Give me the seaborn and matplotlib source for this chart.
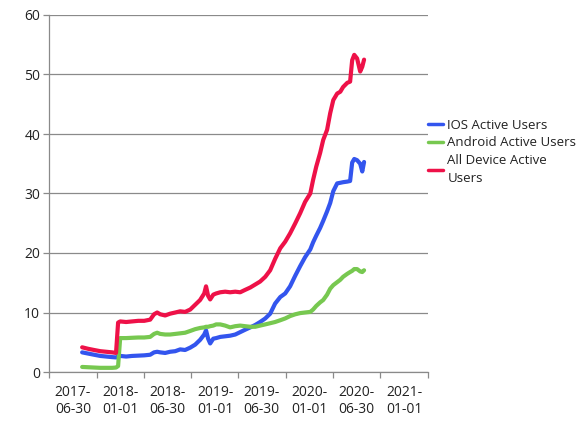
import pandas as pd
import matplotlib.pyplot as plt
import matplotlib.dates as mdates
import seaborn as sns

# values (millions of users, roughly)
dates = ['2017-08-05', '2017-08-28', '2017-09-20', '2017-10-14', '2017-11-06', '2017-11-29',
         '2017-12-14', '2017-12-22', '2017-12-30', '2018-01-22', '2018-02-14', '2018-03-10',
         '2018-04-02', '2018-04-25', '2018-05-10', '2018-05-22', '2018-06-03', '2018-06-22',
         '2018-07-11', '2018-07-31', '2018-08-19', '2018-09-07', '2018-09-27', '2018-10-16',
         '2018-11-04', '2018-11-20', '2018-11-27', '2018-12-05', '2018-12-13', '2018-12-25',
         '2019-01-05', '2019-01-21', '2019-02-09', '2019-02-28', '2019-03-20', '2019-04-08',
         '2019-04-27', '2019-05-17', '2019-06-05', '2019-06-24', '2019-07-14', '2019-08-02',
         '2019-08-21', '2019-09-10', '2019-09-29', '2019-10-18', '2019-11-07', '2019-11-26',
         '2019-12-15', '2020-01-04', '2020-01-15', '2020-01-27', '2020-02-11', '2020-02-23',
         '2020-03-09', '2020-03-21', '2020-04-02', '2020-04-17', '2020-04-29', '2020-05-10',
         '2020-05-26', '2020-06-06', '2020-06-14', '2020-06-22', '2020-07-03', '2020-07-15',
         '2020-07-23', '2020-07-30']

ios = [3.3, 3.1, 2.9, 2.7, 2.6, 2.5,
       2.45, 2.6, 2.7, 2.6, 2.7, 2.75,
       2.8, 2.9, 3.3, 3.4, 3.3, 3.2,
       3.4, 3.5, 3.8, 3.7, 4.1, 4.6,
       5.4, 6.3, 7.0, 5.6, 4.8, 5.6,
       5.7, 5.9, 6.0, 6.1, 6.3, 6.7,
       7.1, 7.5, 7.9, 8.4, 9.0, 9.8,
       11.5, 12.6, 13.2, 14.4, 16.2, 17.8,
       19.3, 20.6, 21.8, 22.9, 24.2, 25.4,
       27.0, 28.4, 30.4, 31.7, 31.8, 31.9,
       32.0, 32.1, 35.2, 35.8, 35.6, 35.0,
       33.7, 35.3]

android = [0.85, 0.8, 0.75, 0.7, 0.7, 0.7,
           0.75, 1.0, 5.7, 5.7, 5.75, 5.8,
           5.8, 5.9, 6.4, 6.6, 6.4, 6.3,
           6.3, 6.4, 6.5, 6.6, 6.9, 7.2,
           7.4, 7.5, 7.6, 7.6, 7.7, 7.8,
           8.0, 8.0, 7.8, 7.5, 7.7, 7.8,
           7.7, 7.6, 7.6, 7.8, 8.0, 8.2,
           8.4, 8.7, 9.0, 9.4, 9.7, 9.9,
           10.0, 10.1, 10.5, 11.1, 11.7, 12.1,
           13.0, 14.0, 14.6, 15.1, 15.5, 16.0,
           16.5, 16.8, 17.0, 17.3, 17.3, 16.9,
           16.8, 17.1]

all_devices = [4.15, 3.9, 3.7, 3.5, 3.4, 3.3,
               3.2, 8.3, 8.5, 8.4, 8.5, 8.6,
               8.6, 8.8, 9.7, 10.0, 9.7, 9.5,
               9.8, 10.0, 10.2, 10.1, 10.5, 11.3,
               12.1, 13.2, 14.4, 12.8, 12.2, 13.0,
               13.2, 13.4, 13.5, 13.4, 13.5, 13.4,
               13.8, 14.2, 14.7, 15.2, 16.0, 17.1,
               19.0, 20.8, 21.9, 23.3, 25.0, 26.7,
               28.6, 30.0, 32.3, 34.5, 36.8, 39.0,
               40.7, 43.5, 45.7, 46.8, 47.1, 47.9,
               48.6, 48.8, 52.4, 53.3, 52.7, 50.5,
               51.3, 52.5]

series_names = ['IOS Active Users', 'Android Active Users', 'All Device Active Users']
colors = ['#3355ee', '#77c850', '#ee1148']
tick_dates = ['2017-06-30', '2018-01-01', '2018-06-30', '2019-01-01',
              '2019-06-30', '2020-01-01', '2020-06-30', '2021-01-01']

df = pd.DataFrame({'date': pd.to_datetime(dates),
                   series_names[0]: ios,
                   series_names[1]: android,
                   series_names[2]: all_devices})
long_df = df.melt(id_vars='date', var_name='series', value_name='users')

sns.set_style('white')
plt.rcParams['font.family'] = ['Open Sans', 'DejaVu Sans']

fig = plt.figure(figsize=(5.81, 4.36), dpi=100)
ax = fig.add_axes([49.3 / 581, 1 - 372 / 436, (427.7 - 49.3) / 581, (372 - 15) / 436])

sns.lineplot(data=long_df, x='date', y='users', hue='series', hue_order=series_names,
             palette=dict(zip(series_names, colors)), linewidth=3, ax=ax)

ax.set_ylim(0, 60)
ax.set_yticks(range(0, 61, 10))
ax.yaxis.grid(True, color='#8a8a8a', linewidth=0.9)
ax.set_axisbelow(True)

# labels sit between tick marks, like the original
label_pos = pd.to_datetime(tick_dates)
bounds = [label_pos[0] - pd.Timedelta(days=91)]
for a, b in zip(label_pos[:-1], label_pos[1:]):
    bounds.append(a + (b - a) / 2)
bounds.append(label_pos[-1] + pd.Timedelta(days=91))
ax.set_xlim(mdates.date2num(bounds[0]), mdates.date2num(bounds[-1]))
ax.set_xticks(mdates.date2num(bounds))
ax.set_xticklabels([''] * len(bounds))
ax.set_xticks(mdates.date2num(label_pos), minor=True)
ax.set_xticklabels([d[:5] + '\n' + d[5:] for d in tick_dates], minor=True)
ax.tick_params(axis='x', which='minor', length=0, pad=9, labelsize=10, colors='#222222')
ax.tick_params(axis='x', which='major', length=4.5, width=0.9, color='#8a8a8a', direction='out')
ax.tick_params(axis='y', length=4.5, width=0.9, color='#8a8a8a', direction='out',
               labelsize=10, labelcolor='#222222', pad=2)
ax.tick_params(bottom=True, left=True, which='major')

for s in ['top', 'right']:
    ax.spines[s].set_visible(False)
for s in ['left', 'bottom']:
    ax.spines[s].set_color('#8a8a8a')
    ax.spines[s].set_linewidth(0.9)

ax.set_xlabel('')
ax.set_ylabel('')

handles, labels = ax.get_legend_handles_labels()
labels = ['IOS Active Users', 'Android Active Users', 'All Device Active\nUsers']
leg = ax.legend(handles, labels, loc='upper left', bbox_to_anchor=(1.0, 0.71),
                frameon=False, fontsize=9.5, handlelength=1.15, handletextpad=0.35,
                borderpad=0, borderaxespad=0, labelspacing=0.35)
for line in leg.get_lines():
    line.set_linewidth(2.5)
for t in leg.get_texts():
    t.set_color('#222222')
    t.set_linespacing(1.5)

fig.savefig('out.png', dpi=100)
